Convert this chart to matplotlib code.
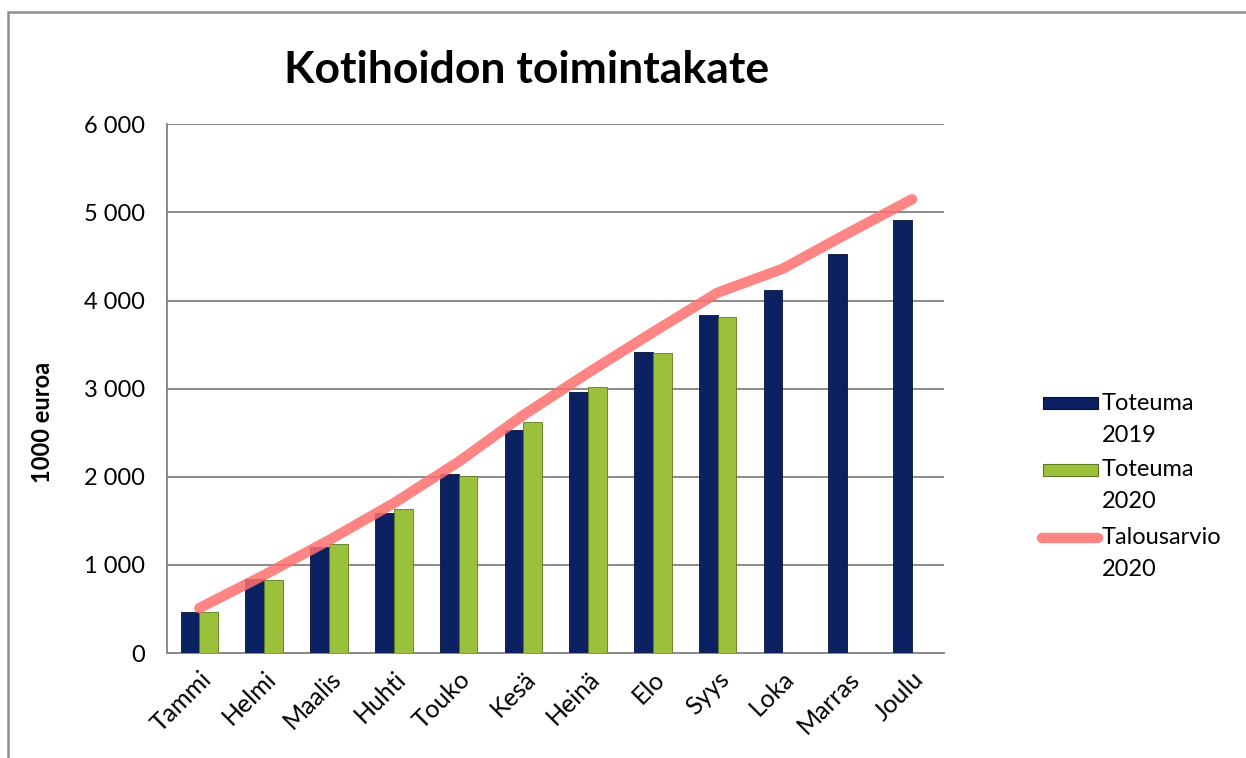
import matplotlib.pyplot as plt
import numpy as np
from matplotlib.patches import Rectangle
from matplotlib.lines import Line2D

months = ["Tammi", "Helmi", "Maalis", "Huhti", "Touko", "Kesä",
          "Heinä", "Elo", "Syys", "Loka", "Marras", "Joulu"]
toteuma_2019 = [460, 843, 1206, 1584, 2027, 2529, 2964, 3418, 3834, 4124, 4532, 4918]
toteuma_2020 = [465, 828, 1236, 1637, 2007, 2623, 3021, 3406, 3811]
talousarvio_2020 = [510, 885, 1280, 1700, 2170, 2700, 3180, 3640, 4090, 4360, 4760, 5150]

plt.rcParams['font.family'] = ['Lato', 'DejaVu Sans']

W, H = 1246, 758
fig = plt.figure(figsize=(W / 100, H / 100), dpi=100)
ax = fig.add_axes([0.134, 0.1385, 0.624, 0.6975])

navy = "#0B2161"
green = "#9BC13C"
salmon = "#FF6F6F"

x = np.arange(len(months))
w = 0.29
ax.bar(x[:len(toteuma_2019)] - w/2, toteuma_2019, w, color=navy,
       edgecolor="#06133a", linewidth=0.6, zorder=3)
ax.bar(x[:len(toteuma_2020)] + w/2, toteuma_2020, w, color=green,
       edgecolor="#5d7a1e", linewidth=0.6, zorder=3)
ax.plot(x[:len(talousarvio_2020)], talousarvio_2020, color=salmon, alpha=0.85,
        linewidth=7.5, solid_capstyle="round", solid_joinstyle="round", zorder=4)

ax.set_xlim(-0.5, len(months) - 0.5)
ax.set_ylim(0, 6000)
ax.set_yticks(range(0, 6001, 1000))
ax.set_yticklabels(["0" if v == 0 else f"{v // 1000} 000" for v in range(0, 6001, 1000)])
ax.set_xticks(x)
ax.set_xticklabels(months, rotation=45, ha="right", rotation_mode="anchor")
ax.tick_params(axis="both", length=0)
ax.tick_params(axis="y", pad=16, labelsize=17)
ax.tick_params(axis="x", pad=10, labelsize=18)

ax.grid(axis="y", color="#8a8a8a", linewidth=1.4, zorder=0)
ax.set_axisbelow(True)
for s in ["top", "right"]:
    ax.spines[s].set_visible(False)
for s in ["left", "bottom"]:
    ax.spines[s].set_color("#8a8a8a")
    ax.spines[s].set_linewidth(1.4)

fig.text(42 / W, 1 - 422 / H, "1000 euroa", fontsize=17, fontweight="bold",
         rotation=90, ha="center", va="center")

fig.text(527 / W, 1 - 70 / H, "Kotihoidon toimintakate", fontsize=32, fontweight="bold",
         ha="center", va="center")

# legend, drawn by hand so the keys sit on the first line of each label
def px(xp, yp):
    return xp / W, 1 - yp / H

leg_items = [("patch", navy, "#06133a", ["Toteuma", "2019"], 403),
             ("patch", green, "#5d7a1e", ["Toteuma", "2020"], 470),
             ("line", salmon, None, ["Talousarvio", "2020"], 538)]
for kind, col, edge, lines, yc in leg_items:
    if kind == "patch":
        x0, y0 = px(1043, yc + 6)
        fig.add_artist(Rectangle((x0, y0), 55 / W, 12 / H, transform=fig.transFigure,
                                 facecolor=col, edgecolor=edge, linewidth=0.8))
    else:
        xa, ya = px(1042, yc)
        xb, _ = px(1098, yc)
        fig.add_artist(Line2D([xa, xb], [ya, ya], transform=fig.transFigure,
                              color=col, alpha=0.85, linewidth=7.5,
                              solid_capstyle="round"))
    for i, t in enumerate(lines):
        tx, ty = px(1102, yc + i * 32)
        fig.text(tx, ty, t, fontsize=17, ha="left", va="center")

# outer chart frame
fig.patches.append(Rectangle((8 / W, -0.05), 1.1, 1 - 12 / H + 0.05,
                             transform=fig.transFigure, fill=False,
                             edgecolor="#8f8f8f", linewidth=1.8))

fig.savefig("out.png", dpi=100)
